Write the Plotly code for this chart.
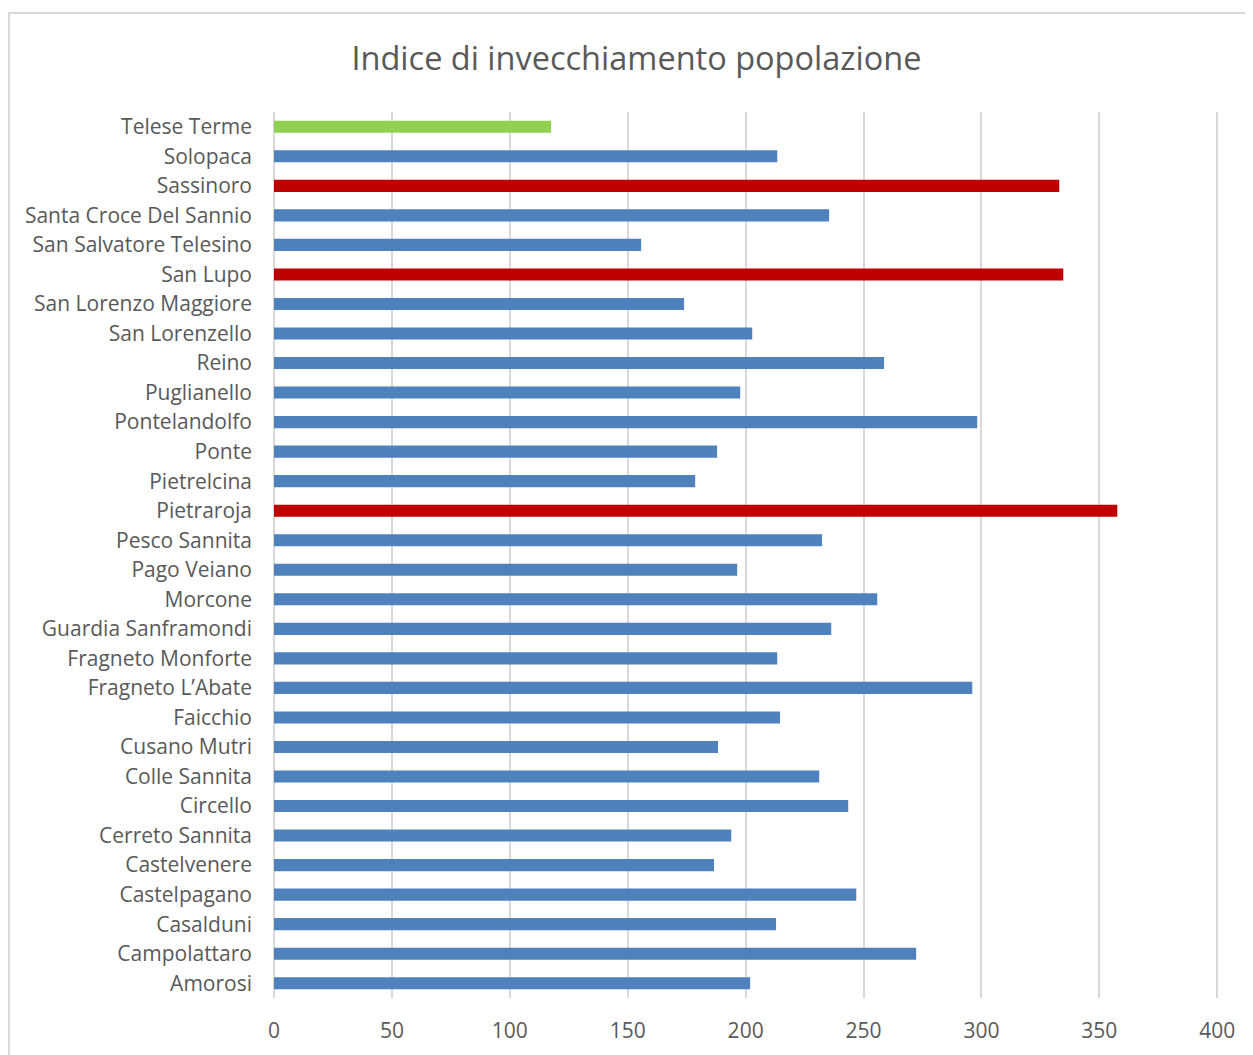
import plotly.graph_objects as go

# bottom -> top, as plotted
comuni = [
    "Amorosi", "Campolattaro", "Casalduni", "Castelpagano", "Castelvenere",
    "Cerreto Sannita", "Circello", "Colle Sannita", "Cusano Mutri", "Faicchio",
    "Fragneto L\u2019Abate", "Fragneto Monforte", "Guardia Sanframondi", "Morcone",
    "Pago Veiano", "Pesco Sannita", "Pietraroja", "Pietrelcina", "Ponte",
    "Pontelandolfo", "Puglianello", "Reino", "San Lorenzello", "San Lorenzo Maggiore",
    "San Lupo", "San Salvatore Telesino", "Santa Croce Del Sannio", "Sassinoro",
    "Solopaca", "Telese Terme",
]
indice = [
    201.9, 272.3, 212.9, 246.9, 186.6,
    193.9, 243.5, 231.2, 188.3, 214.6,
    296.1, 213.4, 236.3, 255.8,
    196.4, 232.4, 357.6, 178.6, 187.9,
    298.2, 197.7, 258.7, 202.8, 173.9,
    334.7, 155.7, 235.4, 333.0,
    213.4, 117.5,
]
alti = {"Pietraroja", "San Lupo", "Sassinoro"}
riferimento = "Telese Terme"

BLUE = "#4F81BD"
RED = "#C00000"
GREEN = "#92D050"
GRID = "#D9D9D9"
TEXT = "#595959"
FONT = "Open Sans, sans-serif"

colors = [GREEN if c == riferimento else RED if c in alti else BLUE for c in comuni]

fig = go.Figure(go.Bar(
    x=indice, y=comuni, orientation="h",
    marker=dict(color=colors, line=dict(width=0)),
    width=0.41,
    hovertemplate="%{y}: %{x:.1f}<extra></extra>",
))

# page has an 8px body margin, so the figure is a bit smaller than the window
fig.update_layout(
    width=1245, height=1047,
    margin=dict(l=266, r=31, t=104, b=57),
    paper_bgcolor="white", plot_bgcolor="white",
    font=dict(family=FONT, color=TEXT, size=21),
    title=dict(text="Indice di invecchiamento popolazione", x=0.5048, xanchor="center",
               y=0.952, yanchor="middle", font=dict(size=32.5, color=TEXT, family=FONT)),
    showlegend=False,
)
# range a touch past 400 so the last gridline is still drawn
fig.update_xaxes(range=[0, 402], tick0=0, dtick=50, showgrid=True, gridcolor=GRID,
                 gridwidth=2, zeroline=True, zerolinecolor=GRID, zerolinewidth=2,
                 showline=False, ticklabelstandoff=18,
                 tickfont=dict(size=21, color=TEXT, family=FONT))
fig.update_yaxes(type="category", showgrid=False, showline=False, ticklabelstandoff=21,
                 tickfont=dict(size=21, color=TEXT, family=FONT))

# outer chart-area border (partly cropped in the original)
fig.add_shape(type="rect", xref="paper", yref="paper",
              x0=-0.2795, x1=1.1, y0=-0.2, y1=1.1117,
              line=dict(color=GRID, width=2), fillcolor="rgba(0,0,0,0)", layer="below")

fig.write_html("out.html")
